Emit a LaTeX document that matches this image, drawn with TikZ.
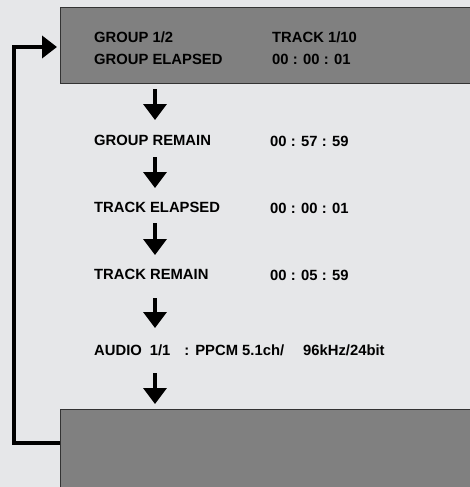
\documentclass[tikz,border=0pt]{standalone}
\usepackage{fontspec}
\setmainfont{Liberation Sans}
\usetikzlibrary{arrows.meta}
\definecolor{bgc}{HTML}{E6E7E9}
\definecolor{boxc}{HTML}{808080}
\definecolor{edgec}{HTML}{333333}
\tikzset{
  lbl/.style={anchor=base west, inner sep=0pt, font=\fontsize{14.8}{16}\selectfont\bfseries},
  panel/.style={draw=edgec, line width=1pt, fill=boxc},
  downarrow/.style={line width=3.4pt, -{Triangle[width=23pt,length=16pt]}},
  looparrow/.style={line width=4.5pt, -{Triangle[width=22pt,length=15pt]}}
}
\begin{document}
\begin{tikzpicture}[x=1pt,y=-1pt]
\useasboundingbox (0,0) rectangle (470,487);
\clip (0,0) rectangle (470,487);
\fill[bgc] (0,0) rectangle (470,487);
% panels
\draw[panel] (60,8) rectangle (475,83);
\draw[panel] (60,409) rectangle (475,495);
\coordinate (topW) at (57,47);
\coordinate (botW) at (60,443);
% texts
\node[lbl] (g12) at (94,43) {GROUP 1/2};
\node[lbl] (t110) at (272,43) {TRACK 1/10};
\node[lbl] (ge) at (94,64) {GROUP ELAPSED};
\node[lbl] (get) at (272,64) {00 : 00 : 01};
\node[lbl] (gr) at (94,145) {GROUP REMAIN};
\node[lbl] (grt) at (270,146) {00 : 57 : 59};
\node[lbl] (te) at (94,212) {TRACK ELAPSED};
\node[lbl] (tet) at (270,213) {00 : 00 : 01};
\node[lbl] (tr) at (94,279) {TRACK REMAIN};
\node[lbl] (trt) at (270,280) {00 : 05 : 59};
\node[lbl] (au) at (94,355) {AUDIO\hspace{8pt}1/1\hspace{14pt}:\hspace{6pt}PPCM 5.1ch/\hspace{19pt}96kHz/24bit};
% arrows
\coordinate (a1s) at (155,89);  \coordinate (a1e) at (155,120);
\coordinate (a2s) at (155,157); \coordinate (a2e) at (155,188);
\coordinate (a3s) at (155,223); \coordinate (a3e) at (155,255);
\coordinate (a4s) at (155,298); \coordinate (a4e) at (155,328);
\coordinate (a5s) at (155,373); \coordinate (a5e) at (155,404);
\draw[downarrow] (a1s) -- (a1e);
\draw[downarrow] (a2s) -- (a2e);
\draw[downarrow] (a3s) -- (a3e);
\draw[downarrow] (a4s) -- (a4e);
\draw[downarrow] (a5s) -- (a5e);
% loop
\draw[looparrow] (botW) -- (14,443) -- (14,47) -- (topW);
\end{tikzpicture}
\end{document}
